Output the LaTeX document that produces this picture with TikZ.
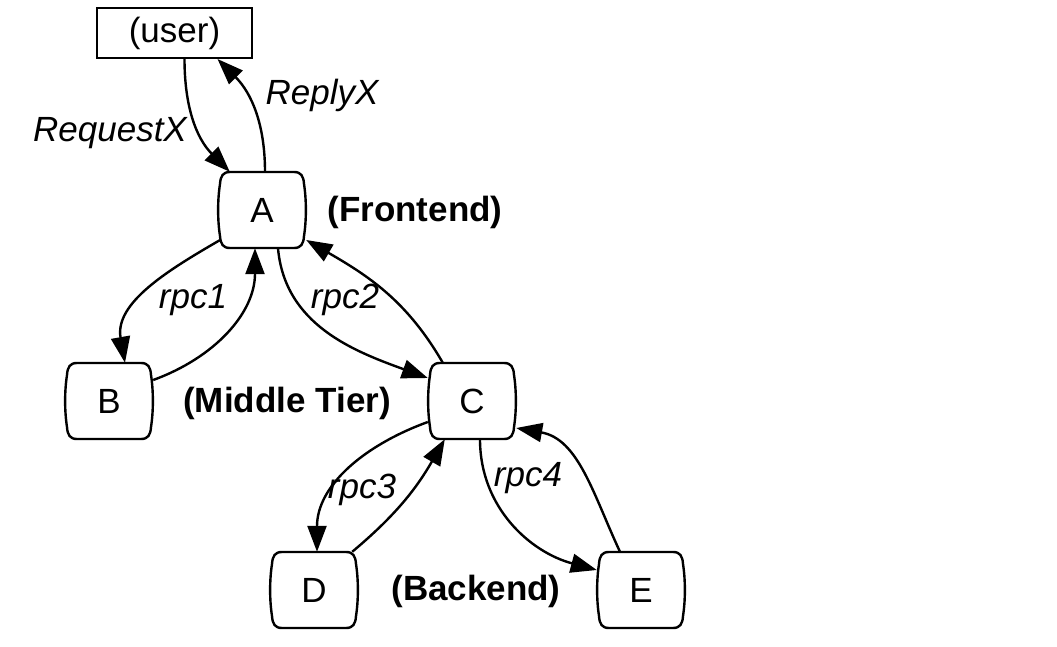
\documentclass[tikz,border=0pt]{standalone}
\usepackage{fontspec}
\setmainfont{Liberation Sans}
\usetikzlibrary{arrows.meta}
\begin{document}
\begin{tikzpicture}[x=1pt,y=1pt,
  proc/.style={minimum width=88pt, minimum height=76pt, inner sep=0pt, font=\fontsize{35}{40}\selectfont},
  procshape/.style={draw, line width=2.4pt},
  userbox/.style={draw, line width=2pt, minimum width=155pt, minimum height=50pt, inner sep=0pt, font=\fontsize{35}{40}\selectfont},
  link/.style={line width=2.4pt, -{Triangle[length=26pt,width=19pt]}},
  lbl/.style={font=\fontsize{35}{40}\selectfont\itshape, inner sep=0pt},
  tier/.style={font=\fontsize{35}{40}\selectfont\bfseries, inner sep=0pt}]
\useasboundingbox (0,0) rectangle (1057,-647);
\node[userbox] (user) at (174.5,-33) {(user)};
\node[proc] (A) at (262,-210) {A};
\node[proc] (B) at (109,-401) {B};
\node[proc] (C) at (472,-401) {C};
\node[proc] (D) at (314,-590) {D};
\node[proc] (E) at (641,-590) {E};
\foreach \n in {A,B,C,D,E}
  \draw[procshape, shift={(\n.center)}]
    (-32,38) -- (32,38)
    .. controls (39,38) and (41.5,34) .. (42,26)
    .. controls (44.5,10) and (44.5,-10) .. (42,-26)
    .. controls (41.5,-34) and (39,-38) .. (32,-38)
    -- (-32,-38)
    .. controls (-39,-38) and (-41.5,-34) .. (-42,-26)
    .. controls (-44.5,-10) and (-44.5,10) .. (-42,26)
    .. controls (-41.5,34) and (-39,38) .. cycle;
% labels
\node[lbl] (lreq) at (110,-133) {RequestX};
\node[lbl] (lrep) at (322,-95) {ReplyX};
\node[lbl] (l1) at (193,-300) {rpc1};
\node[lbl] (l2) at (345,-300) {rpc2};
\node[lbl] (l3) at (362,-490) {rpc3};
\node[lbl] (l4) at (528,-478) {rpc4};
\node[tier] (tf) at (415,-212) {(Frontend)};
\node[tier] (tm) at (287,-403) {(Middle Tier)};
\node[tier] (tb) at (476,-591) {(Backend)};
% connectors
\draw[link] ([xshift=10pt]user.south) to[out=-90,in=135] ([xshift=12pt]A.north west);
\draw[link] ([xshift=3pt]A.north) to[out=90,in=-45] ([xshift=43pt]user.south);
\draw[link] ([shift={(2pt,8pt)}]A.south west) to[out=210,in=100] ([xshift=16pt]B.north);
\draw[link] ([yshift=21pt]B.east) to[out=20,in=-90] ([xshift=-7pt]A.south);
\draw[link] ([xshift=16pt]A.south) to[out=-85,in=160] ([yshift=23pt]C.west);
\draw[link] ([xshift=15pt]C.north west) to[out=120,in=-30] ([yshift=-30pt]A.east);
\draw[link] ([yshift=-21pt]C.west) to[out=200,in=90] ([xshift=3pt]D.north);
\draw[link] ([xshift=-6pt]D.north east) to[out=40,in=-120] ([xshift=17pt]C.south west);
\draw[link] ([xshift=8pt]C.south) to[out=-90,in=165] ([yshift=20pt]E.west);
\draw[link] ([xshift=-21pt]E.north) to[out=115,in=-10] ([yshift=-27pt]C.east);
\end{tikzpicture}
\end{document}
